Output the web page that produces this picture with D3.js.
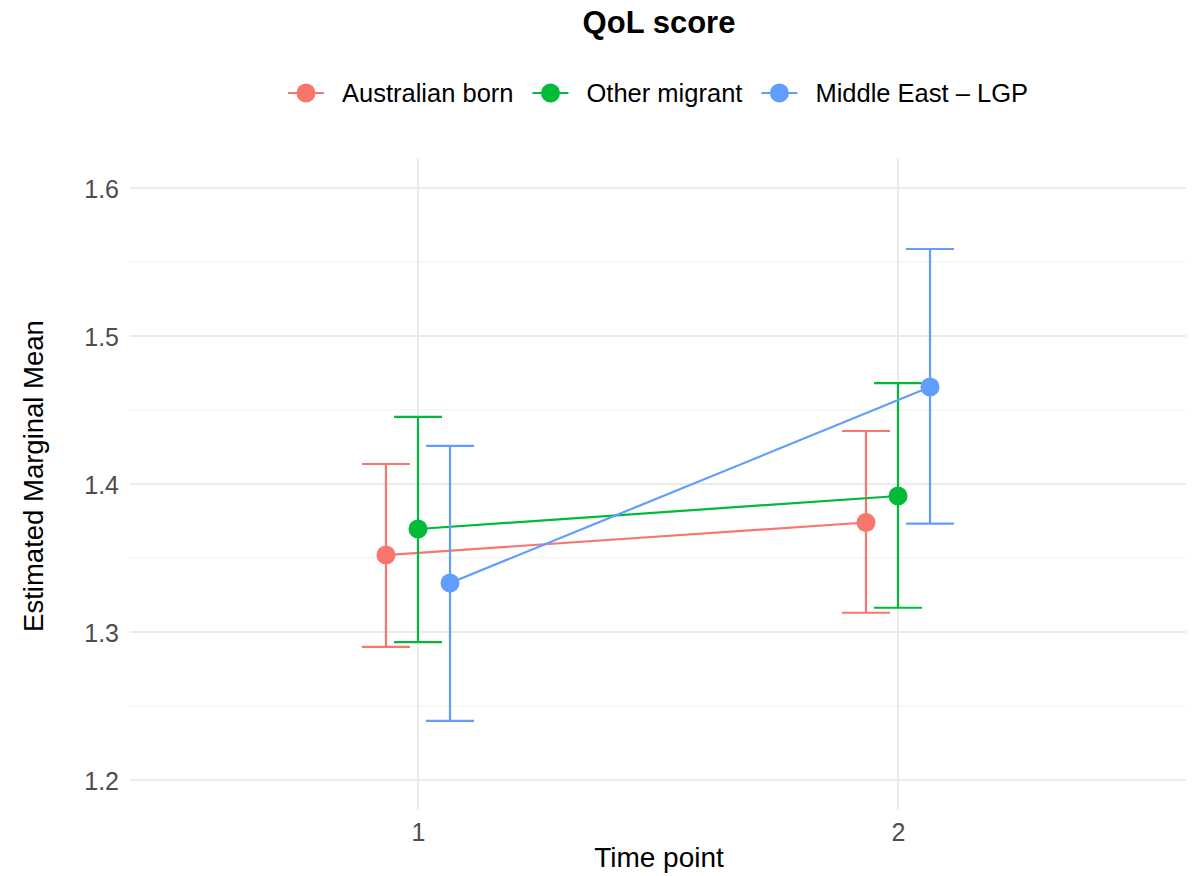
<!DOCTYPE html>
<html>
<head>
<meta charset="utf-8">
<script src="https://cdn.jsdelivr.net/npm/d3@7"></script>
<style>
  body { margin: 0; background: #fff; }
  text { font-family: "Liberation Sans", Arial, Helvetica, sans-serif; }
</style>
</head>
<body>
<div id="main"></div>
<script>
// data
var groups = ["Australian born", "Other migrant", "Middle East \u2013 LGP"];
var groupColors = ["#F8766D", "#00BA38", "#619CFF"];
var timePoints = [1, 2];
var meanAus = [1.352, 1.374];
var lowAus = [1.290, 1.313];
var highAus = [1.4135, 1.4358];
var meanOther = [1.3696, 1.3919];
var lowOther = [1.2932, 1.3164];
var highOther = [1.4453, 1.4682];
var meanME = [1.3331, 1.4655];
var lowME = [1.2399, 1.3732];
var highME = [1.4257, 1.5588];
var yTicks = [1.2, 1.3, 1.4, 1.5, 1.6];
var yMinor = [1.25, 1.35, 1.45, 1.55];

var ctx = {
    w: 1197,
    h: 876,
    left: 130,
    right: 1186,
    top: 158.4,
    bottom: 809.6,
    GRID: "#EBEBEB",
    dodge: 0.0667,
    capW: 0.05,
};

var series = [
    {name: groups[0], color: groupColors[0], mean: meanAus, low: lowAus, high: highAus, off: -1},
    {name: groups[1], color: groupColors[1], mean: meanOther, low: lowOther, high: highOther, off: 0},
    {name: groups[2], color: groupColors[2], mean: meanME, low: lowME, high: highME, off: 1},
];

var svg = d3.select("#main").append("svg")
    .attr("width", ctx.w)
    .attr("height", ctx.h);

var x = d3.scaleLinear().domain([0.4, 2.6]).range([ctx.left, ctx.right]);
var y = d3.scaleLinear().domain([1.18, 1.62]).range([ctx.bottom, ctx.top]);

// grid
svg.append("g").selectAll("line").data(yMinor).enter().append("line")
    .attr("x1", ctx.left).attr("x2", ctx.right)
    .attr("y1", d => y(d)).attr("y2", d => y(d))
    .attr("stroke", "#F1F1F1").attr("stroke-width", 1.2);
svg.append("g").selectAll("line").data(yTicks).enter().append("line")
    .attr("x1", ctx.left).attr("x2", ctx.right)
    .attr("y1", d => y(d)).attr("y2", d => y(d))
    .attr("stroke", ctx.GRID).attr("stroke-width", 2);
svg.append("g").selectAll("line").data(timePoints).enter().append("line")
    .attr("x1", d => x(d)).attr("x2", d => x(d))
    .attr("y1", ctx.top).attr("y2", ctx.bottom)
    .attr("stroke", ctx.GRID).attr("stroke-width", 2);

// axes labels
var yAxis = d3.axisLeft(y).tickValues(yTicks).tickSize(0).tickPadding(11).tickFormat(d3.format(".1f"));
var gy = svg.append("g").attr("transform", "translate(" + ctx.left + ",0)").call(yAxis);
gy.select(".domain").remove();
gy.selectAll("text").attr("fill", "#4D4D4D").style("font-size", "25px").attr("dy", "0.36em");

var xAxis = d3.axisBottom(x).tickValues(timePoints).tickSize(0).tickPadding(14).tickFormat(d3.format("d"));
var gx = svg.append("g").attr("transform", "translate(0," + ctx.bottom + ")").call(xAxis);
gx.select(".domain").remove();
gx.selectAll("text").attr("fill", "#4D4D4D").style("font-size", "25px");

var midX = (ctx.left + ctx.right) / 2;
svg.append("text").attr("x", midX + 1).attr("y", 867)
    .attr("text-anchor", "middle").style("font-size", "28px").text("Time point");
svg.append("text")
    .attr("transform", "translate(43,476) rotate(-90)")
    .attr("text-anchor", "middle").style("font-size", "27.5px").text("Estimated Marginal Mean");
svg.append("text").attr("x", midX + 1).attr("y", 33)
    .attr("text-anchor", "middle").style("font-size", "31px").style("font-weight", "bold").text("QoL score");

// series
var px = (s, i) => x(timePoints[i] + s.off * ctx.dodge);
series.forEach(function(s){
    var g = svg.append("g");
    g.append("path")
        .datum(timePoints.map((t, i) => i))
        .attr("fill", "none").attr("stroke", s.color).attr("stroke-width", 2.2)
        .attr("d", d3.line().x(i => px(s, i)).y(i => y(s.mean[i])));
    var eb = g.selectAll(".eb").data(timePoints.map((t, i) => i)).enter().append("g");
    eb.append("line")
        .attr("x1", i => px(s, i)).attr("x2", i => px(s, i))
        .attr("y1", i => y(s.low[i])).attr("y2", i => y(s.high[i]))
        .attr("stroke", s.color).attr("stroke-width", 2.2);
    ["low", "high"].forEach(function(k){
        eb.append("line")
            .attr("x1", i => x(timePoints[i] + s.off * ctx.dodge - ctx.capW))
            .attr("x2", i => x(timePoints[i] + s.off * ctx.dodge + ctx.capW))
            .attr("y1", i => y(s[k][i])).attr("y2", i => y(s[k][i]))
            .attr("stroke", s.color).attr("stroke-width", 2.2);
    });
    eb.append("circle")
        .attr("cx", i => px(s, i)).attr("cy", i => y(s.mean[i]))
        .attr("r", 9.5).attr("fill", s.color);
});

// legend
var leg = svg.append("g");
var keyW = 36, gapText = 18, gapItem = 19, cur = 0;
series.forEach(function(s){
    var it = leg.append("g").attr("transform", "translate(" + cur + ",0)");
    it.append("line").attr("x1", 0).attr("x2", keyW).attr("y1", 0).attr("y2", 0)
        .attr("stroke", s.color).attr("stroke-width", 2.2);
    it.append("circle").attr("cx", keyW / 2).attr("cy", 0).attr("r", 9.5).attr("fill", s.color);
    var t = it.append("text").attr("x", keyW + gapText).attr("y", 9)
        .style("font-size", "25.5px").text(s.name);
    cur += keyW + gapText + t.node().getComputedTextLength() + gapItem;
});
var legW = cur - gapItem;
leg.attr("transform", "translate(" + (midX - legW / 2) + ",93)");
</script>
</body>
</html>
